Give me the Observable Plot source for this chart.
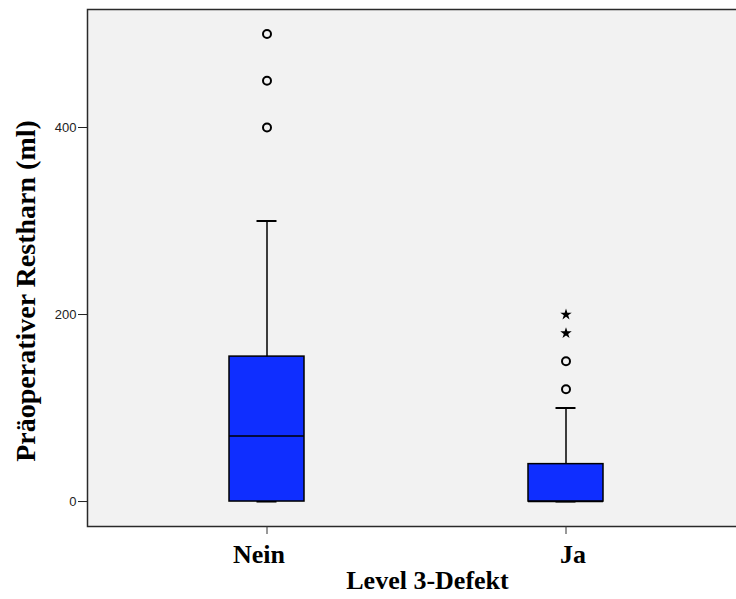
<!DOCTYPE html>
<html>
<head>
<meta charset="utf-8">
<script src="https://cdn.jsdelivr.net/npm/d3@7"></script>
<script src="https://cdn.jsdelivr.net/npm/@observablehq/plot@0.6"></script>
<style>
  html, body { margin: 0; padding: 0; background: #fff; overflow: hidden; }
  #chart svg { display: block; }
</style>
</head>
<body>
<div id="chart"></div>
<script>
// Data
const categories = ["Nein", "Ja"];
const q1 = [0, 0];
const median = [70, 0];
const q3 = [155, 40];
const whiskerLow = [0, 0];
const whiskerHigh = [300, 100];
const outlierGroup = ["Nein", "Nein", "Nein", "Ja", "Ja"];
const outlierValue = [400, 450, 500, 120, 150];
const extremeGroup = ["Ja", "Ja"];
const extremeValue = [180, 200];
const yTicks = [0, 200, 400];
const xTitle = "Level 3-Defekt";
const yTitle = "Präoperativer Restharn (ml)";

const boxes = categories.map((c, i) => ({
  cat: c, q1: q1[i], med: median[i], q3: q3[i], lo: whiskerLow[i], hi: whiskerHigh[i]
}));
const outliers = outlierGroup.map((c, i) => ({cat: c, v: outlierValue[i]}));
const extremes = extremeGroup.map((c, i) => ({cat: c, v: extremeValue[i]}));

const serif = "'Liberation Serif', 'Times New Roman', serif";
const sans = "'Liberation Sans', Arial, sans-serif";

const chart = Plot.plot({
  width: 745,
  height: 599,
  marginLeft: 87,
  marginRight: 0,
  marginTop: 9,
  marginBottom: 73,
  style: {background: "#fff", overflow: "visible", maxWidth: "none"},
  x: {type: "band", domain: categories, paddingInner: 0.75, paddingOuter: 0.4717, label: null},
  y: {domain: [-26.7, 526.2], label: null},
  marks: [
    Plot.frame({fill: "#f2f2f2", stroke: "#2a2a2a", strokeWidth: 1.5}),
    Plot.ruleX(boxes, {x: "cat", y1: "lo", y2: "hi", stroke: "#000", strokeWidth: 1.5}),
    Plot.tickY(boxes, {x: "cat", y: "hi", stroke: "#000", strokeWidth: 2, insetLeft: 27.5, insetRight: 27.5}),
    Plot.tickY(boxes, {x: "cat", y: "lo", stroke: "#000", strokeWidth: 2, insetLeft: 27.5, insetRight: 27.5}),
    Plot.barY(boxes, {x: "cat", y1: "q1", y2: "q3", fill: "#0f2eff", stroke: "#000", strokeWidth: 1.5}),
    Plot.tickY(boxes, {x: "cat", y: "med", stroke: "#000", strokeWidth: 1.5}),
    Plot.dot(outliers, {x: "cat", y: "v", r: 4, stroke: "#000", strokeWidth: 2, fill: "none"}),
    Plot.dot(extremes, {x: "cat", y: "v", r: 3.6, symbol: "star", fill: "#000", stroke: "none"}),
    Plot.axisY({ticks: yTicks, tickSize: 9, tickPadding: 2, fontSize: 13, fontFamily: sans, color: "#222", label: null}),
    Plot.axisX({tickSize: 8, tickFormat: () => "", color: "#333", label: null}),
    Plot.text([categories[0]], {x: d => d, frameAnchor: "bottom", text: d => d, dx: -8, dy: 36, fontSize: 26, fontWeight: "bold", fontFamily: serif, fill: "#000"}),
    Plot.text([categories[1]], {x: d => d, frameAnchor: "bottom", text: d => d, dx: 7, dy: 36, fontSize: 26, fontWeight: "bold", fontFamily: serif, fill: "#000"}),
    Plot.text([xTitle], {frameAnchor: "bottom", text: d => d, dx: 11, dy: 62, fontSize: 26, fontWeight: "bold", fontFamily: serif, fill: "#000"}),
    Plot.text([yTitle], {frameAnchor: "left", textAnchor: "middle", text: d => d, rotate: -90, dx: -61, dy: 23, fontSize: 28, fontWeight: "bold", fontFamily: serif, fill: "#000"})
  ]
});
document.getElementById("chart").appendChild(chart);
</script>
</body>
</html>
